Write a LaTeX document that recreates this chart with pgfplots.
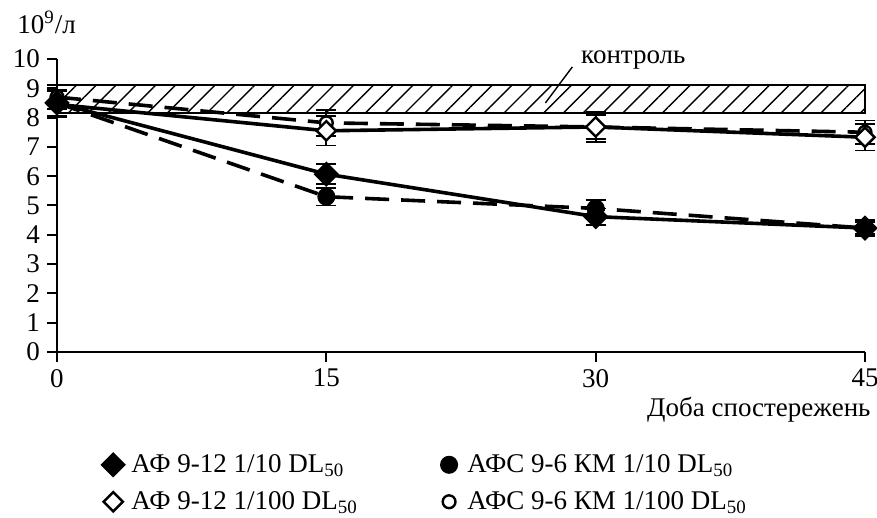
\documentclass[border=0pt]{standalone}
\usepackage{pgfplots}
\pgfplotsset{compat=1.18}
\usepackage{fontspec}
\setmainfont{Liberation Serif}
\usetikzlibrary{patterns.meta}

\begin{document}
\begin{tikzpicture}
\useasboundingbox (-28.5pt,-83pt) rectangle (410pt,176pt);
\begin{axis}[
    at={(0,0)}, anchor=south west,
    scale only axis,
    width=404pt, height=146.5pt,
    xmin=0, xmax=45, ymin=0, ymax=10,
    axis lines=left,
    axis line style={-, line width=1.3pt},
    tick align=outside,
    major tick length=5pt,
    tick style={line width=1pt, black},
    xtick={0,15,30,45},
    ytick={0,1,...,10},
    clip=false,
    font=\fontsize{13.5}{15}\selectfont,
    /pgf/number format/assume math mode=true,
    legend columns=2,
    reverse legend,
    legend cell align=left,
    legend style={draw=none, fill=none, inner sep=0pt, at={(axis description cs:0.055,-0.448)}, anchor=west,
        /tikz/every even column/.append style={column sep=38pt},
        row sep=4pt, font=\fontsize{13.5}{15}\selectfont},
    legend image code/.code={\path[draw=none, fill=none] (0,0) -- (0.45cm,0);
        \draw[#1, solid, only marks] plot coordinates {(0.2cm,0cm)};},
    every axis plot/.append style={line width=1.8pt, black},
    error bars/y dir=both, error bars/y explicit,
    error bars/error bar style={line width=0.9pt, solid},
    error bars/error mark options={rotate=90, mark size=5pt, line width=0.9pt, solid},
]

% control band
\addplot[line width=1pt, pattern={Lines[angle=45,distance=7pt,line width=0.7pt]},
    forget plot, error bars/y dir=none, mark=none]
    coordinates {(0,8.15) (45,8.15) (45,9.12) (0,9.12) (0,8.15)};

% plotted in reverse order so the filled marks lie on top; reverse legend restores the order
% AFS 9-6 KM 1/100
\addplot[dash pattern=on 12pt off 6pt, mark=*, mark size=3.2pt, mark options={solid, fill=white, line width=1.2pt}]
    coordinates {(0,8.7) +- (0,0.4) (15,7.82) +- (0,0.45) (30,7.68) +- (0,0.4) (45,7.5) +- (0,0.4)};
% AF 9-12 1/100
\addplot[solid, mark=square*, mark size=3.4pt, mark options={rotate=45, solid, fill=white, line width=1.2pt}]
    coordinates {(0,8.45) +- (0,0.45) (15,7.55) +- (0,0.5) (30,7.68) +- (0,0.5) (45,7.33) +- (0,0.45)};
% AFS 9-6 KM 1/10
\addplot[dash pattern=on 12pt off 6pt, mark=*, mark size=3.6pt, mark options={solid, fill=black}]
    coordinates {(0,8.5) +- (0,0.45) (15,5.3) +- (0,0.3) (30,4.9) +- (0,0.3) (45,4.23) +- (0,0.2)};
% AF 9-12 1/10
\addplot[solid, mark=square*, mark size=3.6pt, mark options={rotate=45, solid, fill=black}]
    coordinates {(0,8.5) +- (0,0.45) (15,6.07) +- (0,0.35) (30,4.62) +- (0,0.28) (45,4.23) +- (0,0.28)};

\legend{АФС 9-6 КМ 1/100 DL\textsubscript{50}, АФ 9-12 1/100 DL\textsubscript{50},
        АФС 9-6 КМ 1/10 DL\textsubscript{50}, АФ 9-12 1/10 DL\textsubscript{50}}

\draw[line width=0.7pt] (axis cs:28.7,9.73) -- (axis cs:27.2,8.5);
\node at (axis cs:32.1,9.97) {контроль};
\node[anchor=west] at (axis cs:-2.6,11.25) {10\textsuperscript{9}/л};
\node[anchor=east] at (axis cs:45.7,-1.98) {Доба спостережень};
\end{axis}
\end{tikzpicture}
\end{document}
